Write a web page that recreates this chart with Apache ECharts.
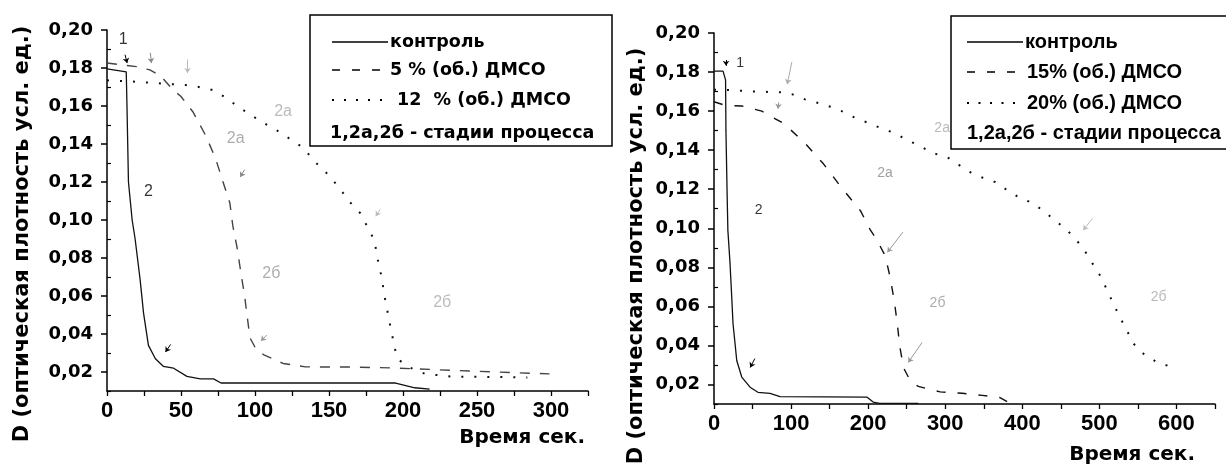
<!DOCTYPE html>
<html><head><meta charset="utf-8">
<script src="https://cdn.jsdelivr.net/npm/echarts@6/dist/echarts.min.js"></script>
<style>html,body{margin:0;padding:0;background:#fff}#c{width:1226px;height:468px}</style>
</head><body><div id="c"></div>
<script>
// ---------- tick labels ----------
const yTicksMajor = [0.02,0.04,0.06,0.08,0.10,0.12,0.14,0.16,0.18,0.20];
const yTicksMinor = [0.01,0.03,0.05,0.07,0.09,0.11,0.13,0.15,0.17,0.19];
const leftXTicks = [0,50,100,150,200,250,300];
const rightXTicks = [0,100,200,300,400,500,600];

// ---------- left chart series [time, D] ----------
const leftControl = [[0,0.1795],[13,0.178],[13.5,0.160],[14.5,0.120],[17,0.100],[19,0.090],[22.4,0.0685],[24.7,0.051],[28,0.034],[32.7,0.027],[38,0.023],[45,0.022],[54,0.0177],[63,0.0164],[72,0.0164],[77,0.0142],[195,0.0142],[208,0.0117],[218,0.011]];
const leftDmso5 = [[0,0.1826],[20,0.1807],[29,0.179],[36,0.176],[44,0.169],[50,0.165],[58,0.157],[67,0.144],[73.5,0.132],[78,0.121],[83,0.109],[85,0.097],[88,0.085],[90.5,0.072],[93,0.060],[94.6,0.050],[96.6,0.038],[100.7,0.032],[106,0.029],[119,0.0245],[134,0.0227],[165,0.0226],[195,0.0221],[245,0.0205],[299,0.019]];
const leftDmso12 = [[0,0.1735],[15.6,0.173],[24.5,0.1725],[34,0.172],[44,0.1715],[53,0.171],[62,0.170],[71.4,0.1684],[79,0.165],[88,0.160],[97,0.1553],[106,0.151],[115,0.147],[123,0.143],[132.7,0.138],[140,0.131],[148,0.125],[156.5,0.1174],[164,0.1095],[171,0.1037],[176,0.0964],[181,0.0887],[182,0.0826],[184,0.0753],[186,0.0685],[187,0.0616],[189,0.0543],[190.5,0.0474],[192.5,0.0405],[194,0.0334],[197,0.0264],[205,0.0222],[215,0.019],[233,0.0176],[260,0.0174],[284,0.0171]];

// ---------- right chart series [time, D] ----------
const rightControl = [[0,0.1805],[11.7,0.1805],[15,0.176],[15.5,0.150],[17,0.118],[18,0.099],[20.8,0.082],[23,0.0648],[24.7,0.051],[27.3,0.041],[29.5,0.0323],[36,0.0238],[46.8,0.0186],[57,0.016],[72.7,0.0154],[85.7,0.0138],[198.7,0.0135],[206.5,0.011],[215,0.0103],[265,0.0103]];
const rightDmso15 = [[0,0.1648],[14,0.163],[36,0.1626],[62,0.160],[91,0.1535],[117,0.144],[142,0.133],[165,0.121],[190,0.109],[203,0.099],[210,0.095],[222,0.086],[228.5,0.075],[234,0.0625],[238,0.0505],[241,0.0395],[246,0.0285],[254.5,0.022],[265,0.019],[293.5,0.0162],[322,0.0155],[348,0.0144],[371,0.0133],[382,0.0108]];
const rightDmso20 = [[0,0.171],[18,0.1708],[52,0.170],[86,0.1697],[101,0.1687],[118,0.166],[134,0.1643],[151,0.1622],[167.5,0.1597],[186,0.156],[200,0.154],[218,0.151],[235,0.1487],[251,0.145],[265,0.1426],[284,0.1385],[302.6,0.1364],[315.6,0.133],[332.5,0.1287],[348,0.126],[365,0.1236],[380.5,0.1195],[395,0.116],[414,0.1128],[430,0.108],[447,0.1026],[465,0.0964],[479,0.0897],[491,0.082],[500,0.0764],[509,0.0692],[518,0.0615],[526,0.0549],[535,0.0482],[544,0.041],[558,0.0354],[575,0.0313],[592,0.0292]];

// ---------- annotations ----------
const leftNotes = [['1',10.9,0.1947,'#000'],['2',28,0.1147,'#000'],['2а',87,0.143,'#999'],['2а',119,0.157,'#aaa'],['2б',111,0.072,'#999'],['2б',226.5,0.0563,'#aaa']];
const leftArrows = [[12.2,0.187,13.6,0.1826,'#000'],[29.3,0.188,30,0.1826,'#888'],[54.4,0.1845,54.4,0.1774,'#bbb'],[93,0.1265,90,0.1226,'#888'],[108,0.0395,104,0.0363,'#999'],[43,0.0345,39.5,0.0305,'#000'],[184.5,0.1055,181.6,0.102,'#bbb']];
const rightNotes = [['1',34,0.1846,'#000'],['2',58,0.1092,'#000'],['2а',222,0.128,'#888'],['2а',296,0.1513,'#aaa'],['2б',290,0.0615,'#999'],['2б',577,0.0646,'#aaa']];
const rightArrows = [[15.6,0.1862,15.6,0.1832,'#000'],[101,0.1851,95,0.1738,'#aaa'],[84,0.1645,83,0.1612,'#999'],[245,0.098,225,0.0877,'#999'],[270,0.0415,252,0.0313,'#999'],[53,0.0333,47,0.0287,'#000'],[491,0.105,479,0.099,'#bbb']];

// ---------- texts ----------
const yName = 'D (оптическая плотность усл. ед.)';
const xName = 'Время сек.';
const leftLegend = ['контроль','5 % (об.) ДМСО','12  % (об.) ДМСО','1,2а,2б - стадии процесса'];
const rightLegend = ['контроль','15% (об.) ДМСО','20% (об.) ДМСО','1,2а,2б - стадии процесса'];

const yFmt = v => v.toFixed(2).replace('.', ',');
const BLACK = '#000';

function yAxes(gridIndex) {
  return [
    {gridIndex, type:'value', min:0.01, max:0.2,
     axisLine:{show:true, onZero:false, lineStyle:{color:BLACK, width:1.5}},
     axisTick:{show:true, customValues:yTicksMajor, length:6, lineStyle:{color:BLACK, width:1.5}},
     axisLabel:{customValues:yTicksMajor, formatter:yFmt, margin:14, color:BLACK, fontFamily:'DejaVu Sans', fontWeight:'bold', fontSize:18},
     splitLine:{show:false}},
    {gridIndex, type:'value', min:0.01, max:0.2,
     axisLine:{show:false},
     axisTick:{show:true, customValues:yTicksMinor, length:4, lineStyle:{color:BLACK, width:1.2}},
     axisLabel:{show:false}, splitLine:{show:false}}
  ];
}
function xAxis(gridIndex, max, interval, labels) {
  return {gridIndex, type:'value', min:0, max, interval,
    axisLine:{show:true, onZero:false, lineStyle:{color:BLACK, width:1.5}},
    axisTick:{show:true, length:5, lineStyle:{color:BLACK, width:1.3}},
    axisLabel:{customValues:labels, margin:9, color:BLACK, fontFamily:'Liberation Sans', fontWeight:'bold', fontSize:22},
    splitLine:{show:false}};
}
function line(name, data, xi, yi, type, width, color) {
  return {name, type:'line', data, xAxisIndex:xi, yAxisIndex:yi, showSymbol:false, symbol:'none',
    lineStyle:{color, width, type}, silent:true, z:3};
}
function notes(notesArr, arrows, xi, yi, fs) {
  return {type:'scatter', xAxisIndex:xi, yAxisIndex:yi, symbolSize:0, silent:true, z:4,
    data: notesArr.map(n => ({name:n[0], value:[n[1], n[2]],
      label:{show:true, position:'inside', formatter:n[0], color:n[3], fontSize:fs, fontFamily:'Liberation Sans'}})),
    markLine:{silent:true, symbol:['none','arrow'], symbolSize:5, label:{show:false},
      data: arrows.map(a => [{coord:[a[0],a[1]], lineStyle:{color:a[4], width:1, type:'solid'}}, {coord:[a[2],a[3]]}])}
  };
}

function legendBox(x, y, w, h, texts, rows, textX, font, sampleX0, sampleX1, dashes) {
  const els = [{type:'rect', shape:{x, y, width:w, height:h}, style:{fill:'#fff', stroke:BLACK, lineWidth:1.5}, z:10}];
  els.push({type:'line', shape:{x1:sampleX0, y1:rows[0], x2:sampleX1, y2:rows[0]}, style:{stroke:BLACK, lineWidth:1.3}, z:11});
  els.push({type:'line', shape:{x1:sampleX0, y1:rows[1], x2:sampleX1, y2:rows[1]}, style:{stroke:BLACK, lineWidth:1.3, lineDash:dashes[0]}, z:11});
  els.push({type:'line', shape:{x1:sampleX0, y1:rows[2], x2:sampleX1, y2:rows[2]}, style:{stroke:BLACK, lineWidth:2, lineDash:dashes[1]}, z:11});
  texts.forEach((t, i) => els.push({type:'text', x:textX[i], y:rows[i], z:11,
    style:{text:t, font, fill:BLACK, align:'left', verticalAlign:'middle'}}));
  return els;
}

const chart = echarts.init(document.getElementById('c'), null, {renderer:'canvas'});
chart.setOption({
  animation:false,
  backgroundColor:'#fff',
  grid:[
    {left:107, top:30, width:481, height:361, containLabel:false, outerBoundsMode:'none'},
    {left:714, top:33, width:501, height:371, containLabel:false, outerBoundsMode:'none'}
  ],
  xAxis:[ xAxis(0, 325, 25, leftXTicks), xAxis(1, 650, 50, rightXTicks) ],
  yAxis:[ ...yAxes(0), ...yAxes(1) ],
  series:[
    line('контроль', leftControl, 0, 0, 'solid', 1.3, '#111'),
    line('5 % (об.) ДМСО', leftDmso5, 0, 0, [10,10], 1.4, '#444'),
    line('12 % (об.) ДМСО', leftDmso12, 0, 0, [2,11], 2, '#111'),
    line('контроль', rightControl, 1, 2, 'solid', 1.3, '#111'),
    line('15% (об.) ДМСО', rightDmso15, 1, 2, [9,12], 1.4, '#111'),
    line('20% (об.) ДМСО', rightDmso20, 1, 2, [2,11], 2, '#111'),
    notes(leftNotes, leftArrows, 0, 0, 16),
    notes(rightNotes, rightArrows, 1, 2, 14)
  ],
  graphic:[
    {type:'text', x:23, y:234, rotation:Math.PI/2, style:{text:yName, font:'bold 21px "DejaVu Sans"', fill:BLACK, align:'center', verticalAlign:'middle'}},
    {type:'text', x:637, y:256, rotation:Math.PI/2, style:{text:yName, font:'bold 21px "DejaVu Sans"', fill:BLACK, align:'center', verticalAlign:'middle'}},
    {type:'text', x:585, y:438, style:{text:xName, font:'bold 20px "DejaVu Sans"', fill:BLACK, align:'right', verticalAlign:'middle'}},
    {type:'text', x:1195, y:455, style:{text:xName, font:'bold 20px "DejaVu Sans"', fill:BLACK, align:'right', verticalAlign:'middle'}},
    ...legendBox(310, 15, 302, 131, leftLegend, [42,70,100,133], [390,390,397,330], 'bold 17.5px "DejaVu Sans"', 332, 388, [[8,12],[2,10]]),
    ...legendBox(951, 16, 300, 133, rightLegend, [42,72,103,133], [1025,1027,1027,967], 'bold 20px "Liberation Sans"', 967, 1023, [[8,12],[2,9.5]])
  ]
});
</script></body></html>
